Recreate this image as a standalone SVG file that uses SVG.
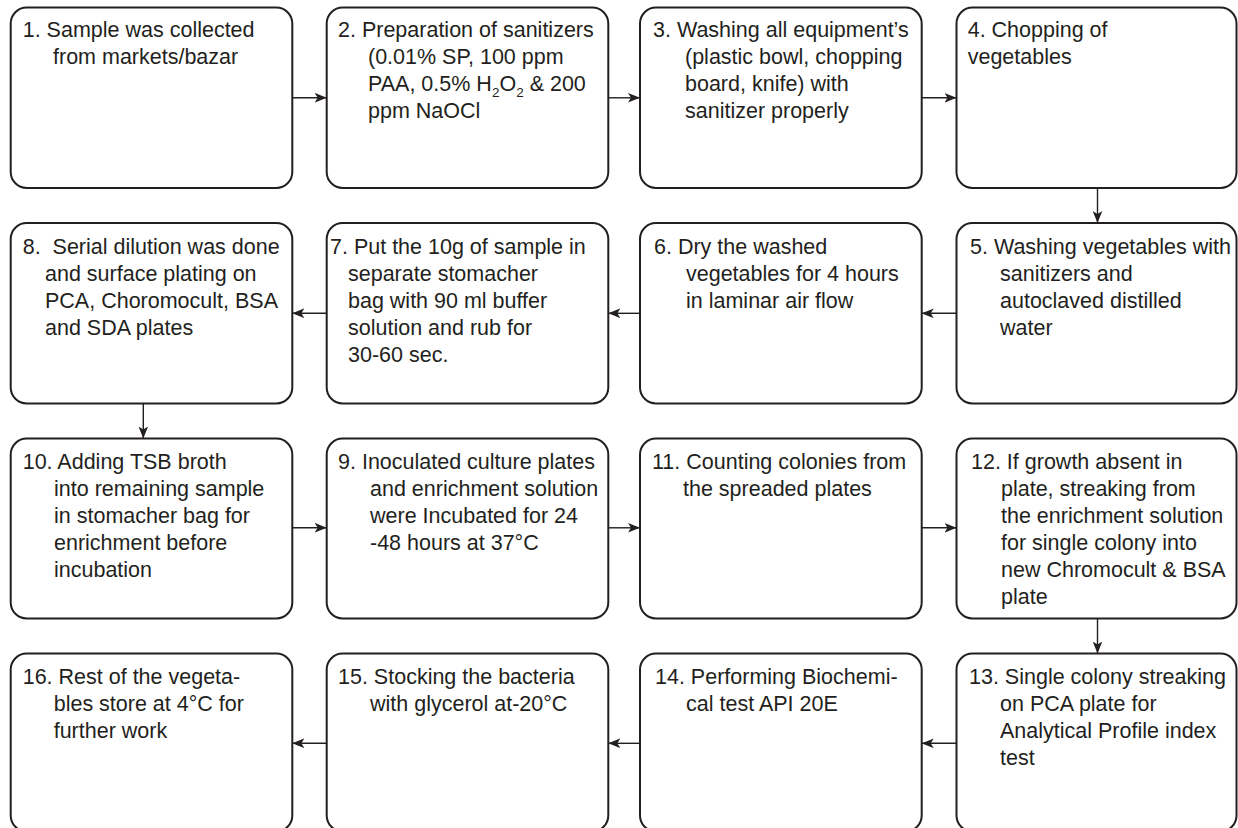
<svg xmlns="http://www.w3.org/2000/svg" width="1238" height="828" viewBox="0 0 1238 828">
<style>
.box{fill:#fff;stroke:#231f20;stroke-width:2}
.t{font-family:"Liberation Sans",Arial,sans-serif;font-size:21.5px;fill:#231f20}
.c{stroke:#231f20;stroke-width:1.4;fill:none;marker-end:url(#ah)}
</style>
<defs>
<marker id="ah" markerUnits="userSpaceOnUse" markerWidth="12" markerHeight="10" refX="10" refY="4" orient="auto" viewBox="0 0 10 8">
<path d="M0,0 L10,4 L0,8 L2.5,4 Z" fill="#231f20"/>
</marker>
</defs>
<rect width="1238" height="828" fill="#fff"/>
<g id="connectors">
<line class="c" x1="292.3" y1="97.8" x2="326.7" y2="97.8"/>
<line class="c" x1="608.3" y1="97.8" x2="640" y2="97.8"/>
<line class="c" x1="921.7" y1="97.8" x2="956.5" y2="97.8"/>
<line class="c" x1="1097.5" y1="188" x2="1097.5" y2="223"/>
<line class="c" x1="956.5" y1="313.3" x2="921.7" y2="313.3"/>
<line class="c" x1="640" y1="313.3" x2="608.3" y2="313.3"/>
<line class="c" x1="326.7" y1="313.3" x2="292.3" y2="313.3"/>
<line class="c" x1="143.3" y1="403" x2="143.3" y2="438.5"/>
<line class="c" x1="292.3" y1="527.8" x2="326.7" y2="527.8"/>
<line class="c" x1="608.3" y1="527.8" x2="640" y2="527.8"/>
<line class="c" x1="921.7" y1="527.8" x2="956.5" y2="527.8"/>
<line class="c" x1="1097.5" y1="618.5" x2="1097.5" y2="653.5"/>
<line class="c" x1="956.5" y1="743.3" x2="921.7" y2="743.3"/>
<line class="c" x1="640" y1="743.3" x2="608.3" y2="743.3"/>
<line class="c" x1="326.7" y1="743.3" x2="292.3" y2="743.3"/>
</g>
<g id="n1">
<rect class="box" x="10.7" y="7.5" width="281.6" height="180.5" rx="16"/>
<text class="t"><tspan x="22.7" y="37">1. Sample was collected</tspan><tspan x="53" y="64">from markets/bazar</tspan></text>
</g>
<g id="n2">
<rect class="box" x="326.7" y="7.5" width="281.6" height="180.5" rx="16"/>
<text class="t"><tspan x="338" y="37">2. Preparation of sanitizers</tspan><tspan x="368" y="64">(0.01% SP, 100 ppm</tspan><tspan x="368" y="91">PAA, 0.5% H</tspan><tspan dy="5.5" font-size="13.5">2</tspan><tspan dy="-5.5">O</tspan><tspan dy="5.5" font-size="13.5">2</tspan><tspan dy="-5.5"> &amp; 200</tspan><tspan x="368" y="118">ppm NaOCl</tspan></text>
</g>
<g id="n3">
<rect class="box" x="640" y="7.5" width="281.7" height="180.5" rx="16"/>
<text class="t"><tspan x="653" y="37">3. Washing all equipment’s</tspan><tspan x="685" y="64">(plastic bowl, chopping</tspan><tspan x="685" y="91">board, knife) with</tspan><tspan x="685" y="118">sanitizer properly</tspan></text>
</g>
<g id="n4">
<rect class="box" x="956.5" y="7.5" width="280" height="180.5" rx="16"/>
<text class="t"><tspan x="967.7" y="37">4. Chopping of</tspan><tspan x="967.7" y="64">vegetables</tspan></text>
</g>
<g id="n5">
<rect class="box" x="956.5" y="223" width="280" height="180.5" rx="16"/>
<text class="t"><tspan x="970" y="253.5">5. Washing vegetables with</tspan><tspan x="1000" y="280.5">sanitizers and</tspan><tspan x="1000" y="307.5">autoclaved distilled</tspan><tspan x="1000" y="334.5">water</tspan></text>
</g>
<g id="n6">
<rect class="box" x="640" y="223" width="281.7" height="180.5" rx="16"/>
<text class="t"><tspan x="654" y="253.5">6. Dry the washed</tspan><tspan x="686" y="280.5">vegetables for 4 hours</tspan><tspan x="686" y="307.5">in laminar air flow</tspan></text>
</g>
<g id="n7">
<rect class="box" x="326.7" y="223" width="281.6" height="180.5" rx="16"/>
<text class="t"><tspan x="330" y="253.5">7. Put the 10g of sample in</tspan><tspan x="348" y="280.5">separate stomacher</tspan><tspan x="348" y="307.5">bag with 90 ml buffer</tspan><tspan x="348" y="334.5">solution and rub for</tspan><tspan x="348" y="361.5">30-60 sec.</tspan></text>
</g>
<g id="n8">
<rect class="box" x="10.7" y="223" width="281.6" height="180.5" rx="16"/>
<text class="t"><tspan x="22.7" y="253.5">8.&#160; Serial dilution was done</tspan><tspan x="45" y="280.5">and surface plating on</tspan><tspan x="45" y="307.5">PCA, Choromocult, BSA</tspan><tspan x="45" y="334.5">and SDA plates</tspan></text>
</g>
<g id="n10">
<rect class="box" x="10.7" y="438.5" width="281.6" height="180" rx="16"/>
<text class="t"><tspan x="22.7" y="469">10. Adding TSB broth</tspan><tspan x="54" y="496">into remaining sample</tspan><tspan x="54" y="523">in stomacher bag for</tspan><tspan x="54" y="550">enrichment before</tspan><tspan x="54" y="577">incubation</tspan></text>
</g>
<g id="n9">
<rect class="box" x="326.7" y="438.5" width="281.6" height="180" rx="16"/>
<text class="t"><tspan x="338" y="469">9. Inoculated culture plates</tspan><tspan x="370" y="496">and enrichment solution</tspan><tspan x="370" y="523">were Incubated for 24</tspan><tspan x="370" y="550">-48 hours at 37°C</tspan></text>
</g>
<g id="n11">
<rect class="box" x="640" y="438.5" width="281.7" height="180" rx="16"/>
<text class="t"><tspan x="652" y="469">11. Counting colonies from</tspan><tspan x="683" y="496">the spreaded plates</tspan></text>
</g>
<g id="n12">
<rect class="box" x="956.5" y="438.5" width="280" height="180" rx="16"/>
<text class="t"><tspan x="971" y="469">12. If growth absent in</tspan><tspan x="1001" y="496">plate, streaking from</tspan><tspan x="1001" y="523">the enrichment solution</tspan><tspan x="1001" y="550">for single colony into</tspan><tspan x="1001" y="577">new Chromocult &amp; BSA</tspan><tspan x="1001" y="604">plate</tspan></text>
</g>
<g id="n13">
<rect class="box" x="956.5" y="653.5" width="280" height="178" rx="16"/>
<text class="t"><tspan x="969" y="684">13. Single colony streaking</tspan><tspan x="1000" y="711">on PCA plate for</tspan><tspan x="1000" y="738">Analytical Profile index</tspan><tspan x="1000" y="765">test</tspan></text>
</g>
<g id="n14">
<rect class="box" x="640" y="653.5" width="281.7" height="178" rx="16"/>
<text class="t"><tspan x="655" y="684">14. Performing Biochemi-</tspan><tspan x="686" y="711">cal test API 20E</tspan></text>
</g>
<g id="n15">
<rect class="box" x="326.7" y="653.5" width="281.6" height="178" rx="16"/>
<text class="t"><tspan x="338" y="684">15. Stocking the bacteria</tspan><tspan x="370" y="711">with glycerol at-20°C</tspan></text>
</g>
<g id="n16">
<rect class="box" x="10.7" y="653.5" width="281.6" height="178" rx="16"/>
<text class="t"><tspan x="22.7" y="684">16. Rest of the vegeta-</tspan><tspan x="53.7" y="711">bles store at 4°C for</tspan><tspan x="53.7" y="738">further work</tspan></text>
</g>
</svg>
